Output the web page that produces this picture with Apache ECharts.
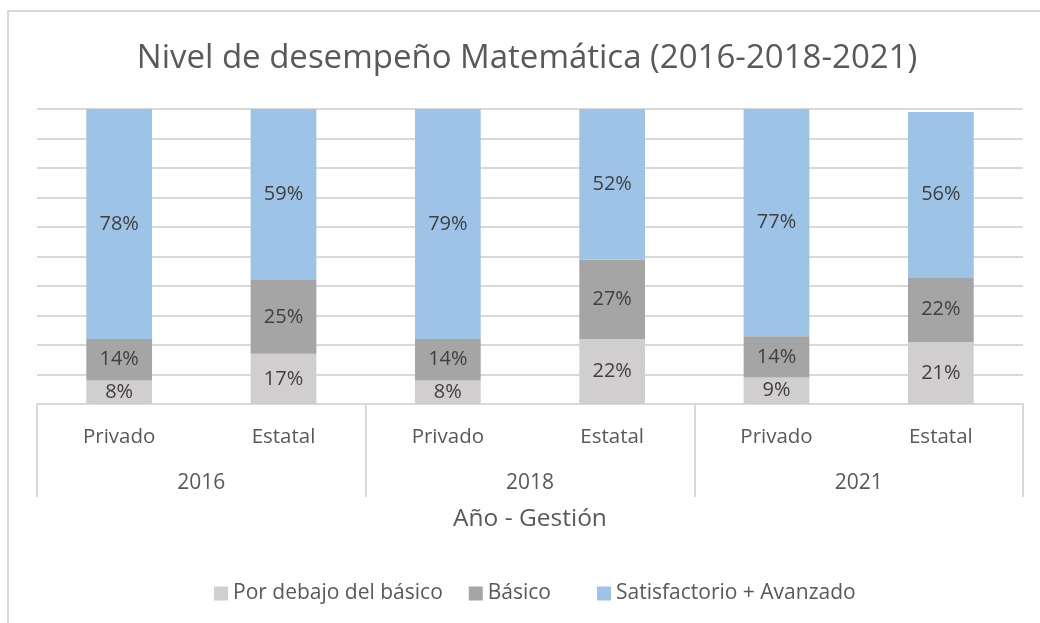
<!DOCTYPE html>
<html>
<head>
<meta charset="utf-8">
<title>Nivel de desempeño Matemática</title>
<script src="https://cdn.jsdelivr.net/npm/echarts@6/dist/echarts.min.js"></script>
<style>
    html, body {
        margin: 0;
        padding: 0;
        background: #fff;
    }

    #chart {
        width: 1040px;
        height: 623px;
    }
</style>
</head>
<body>
<div id="chart"></div>
<script>
// 数据
const gestion = ['Privado', 'Estatal', 'Privado', 'Estatal', 'Privado', 'Estatal']
const anios = ['2016', '2018', '2021']
const porDebajo = [8, 17, 8, 22, 9, 21]
const basico = [14, 25, 14, 27, 14, 22]
const satisfactorio = [78, 59, 79, 52, 77, 56]
const seriesNames = ['Por debajo del básico', 'Básico', 'Satisfactorio + Avanzado']

// 颜色配置
const colors = ['#D0CECE', '#A5A5A5', '#9DC3E6']
const font = 'Open Sans'

const chart = echarts.init(document.getElementById('chart'))

const makeSeries = (name, data, color) => ({
    name: name,
    type: 'bar',
    stack: 'total',
    barWidth: '40%',
    data: data,
    itemStyle: { color: color },
    label: {
        show: true,
        position: 'inside',
        formatter: '{c}%',
        color: '#404040',
        fontSize: 20,
        fontFamily: font
    }
})

// 图例 (Excel 的图例间距不均匀, 所以拆成两个)
const makeLegend = (names, left) => ({
    data: names,
    left: left,
    top: 583,
    padding: 0,
    itemWidth: 14,
    itemHeight: 14,
    itemGap: 26,
    icon: 'rect',
    textStyle: { color: '#595959', fontSize: 21, fontFamily: font }
})

const option = {
    animation: false,
    backgroundColor: '#fff',
    textStyle: { fontFamily: font },
    title: {
        text: 'Nivel de desempeño Matemática (2016-2018-2021)',
        left: 522,
        textAlign: 'center',
        top: 37,
        textStyle: {
            color: '#595959',
            fontSize: 33,
            fontWeight: 'normal',
            fontFamily: font
        }
    },
    // 图表外框
    graphic: [{
        type: 'rect',
        shape: { x: 8, y: 11, width: 1200, height: 800 },
        style: { fill: 'none', stroke: '#D9D9D9', lineWidth: 2 },
        silent: true
    }],
    legend: [
        makeLegend(seriesNames.slice(0, 2), 214),
        makeLegend(seriesNames.slice(2), 597)
    ],
    grid: {
        left: 37,
        right: 17,
        top: 109,
        bottom: 219
    },
    xAxis: [
        {
            type: 'category',
            data: gestion,
            axisLine: { show: false },
            axisTick: { show: false },
            axisLabel: {
                margin: 23,
                color: '#595959',
                fontSize: 20.5,
                fontFamily: font
            }
        },
        {
            type: 'category',
            data: anios,
            position: 'bottom',
            name: 'Año - Gestión',
            nameLocation: 'middle',
            nameGap: 103,
            nameTextStyle: { color: '#595959', fontSize: 24.5, fontFamily: font },
            axisLine: { lineStyle: { color: '#D9D9D9', width: 2 } },
            axisTick: {
                show: true,
                length: 93,
                interval: 0,
                lineStyle: { color: '#D9D9D9', width: 2 }
            },
            axisLabel: {
                margin: 69,
                color: '#595959',
                fontSize: 21,
                fontFamily: font
            }
        }
    ],
    yAxis: {
        type: 'value',
        min: 0,
        max: 100,
        interval: 10,
        axisLine: { show: false },
        axisTick: { show: false },
        axisLabel: { show: false },
        splitLine: { lineStyle: { color: '#D9D9D9', width: 2 } }
    },
    series: [
        makeSeries(seriesNames[0], porDebajo, colors[0]),
        makeSeries(seriesNames[1], basico, colors[1]),
        makeSeries(seriesNames[2], satisfactorio, colors[2])
    ]
}

chart.setOption(option)
</script>
</body>
</html>
